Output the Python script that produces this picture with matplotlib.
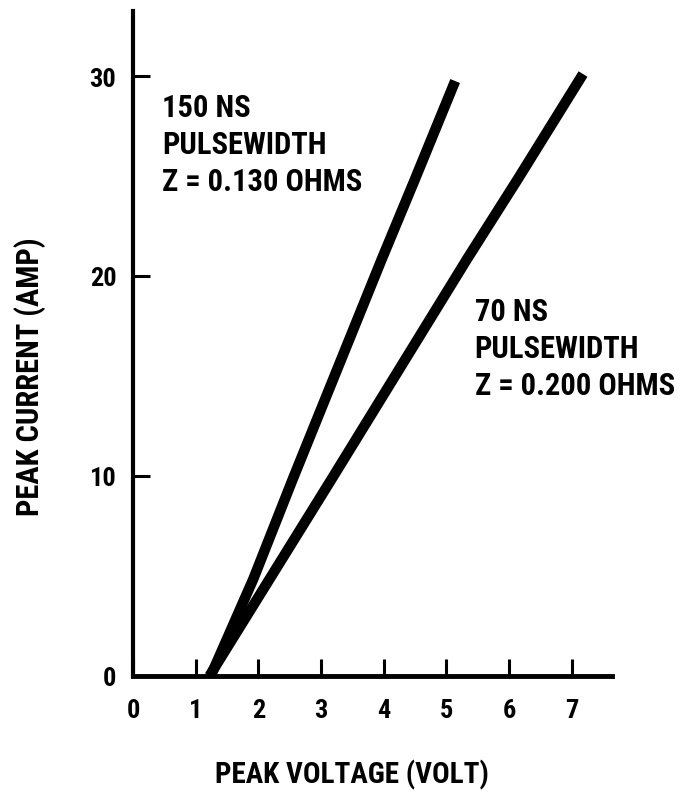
import numpy as np
import matplotlib
matplotlib.use('Agg')
import matplotlib.pyplot as plt

plt.rcParams['font.family'] = ['Roboto Condensed', 'DejaVu Sans']
plt.rcParams['font.weight'] = 'bold'

# peak voltage (V) vs peak current (A)
v_150ns = [1.24, 1.92, 2.55, 3.97, 4.50, 5.14]
i_150ns = [0.0, 4.85, 9.85, 20.85, 24.85, 29.75]
v_70ns = [1.22, 2.18, 3.17, 5.33, 6.14, 7.18]
i_70ns = [0.0, 4.85, 9.85, 20.85, 24.85, 30.1]

x_ticks = [0, 1, 2, 3, 4, 5, 6, 7]
y_ticks = [0, 10, 20, 30]

label_150 = '150 NS\nPULSEWIDTH\nZ = 0.130 OHMS'
label_70 = '70 NS\nPULSEWIDTH\nZ = 0.200 OHMS'

fig = plt.figure(figsize=(6.87, 8.03), dpi=100)
ax = fig.add_axes([0.1936, 0.157, 0.697, 0.828])

ax.plot(v_150ns, i_150ns, color='black', lw=7.5, solid_capstyle='butt')
ax.plot(v_70ns, i_70ns, color='black', lw=7.5, solid_capstyle='butt')

ax.set_xlim(0, 7.64)
ax.set_ylim(0, 33.25)
ax.set_xticks(x_ticks)
ax.set_yticks(y_ticks)

for s in ['top', 'right']:
    ax.spines[s].set_visible(False)
ax.spines['left'].set_linewidth(3)
ax.spines['bottom'].set_linewidth(3.5)

ax.tick_params(direction='in', length=12, width=2.2, labelsize=19, colors='black')
ax.tick_params(axis='x', pad=16)
ax.tick_params(axis='y', pad=12)

ax.set_xlabel('PEAK VOLTAGE (VOLT)', fontsize=21, fontweight='bold', va='center')
ax.xaxis.set_label_coords(0.457, -0.147)
ax.set_ylabel('PEAK CURRENT (AMP)', fontsize=22, fontweight='bold', va='center')
ax.yaxis.set_label_coords(-0.215, 0.451)

ax.text(0.46, 29.2, label_150, fontsize=22, fontweight='bold', va='top', ha='left', linespacing=1.3)
ax.text(5.45, 19.0, label_70, fontsize=22, fontweight='bold', va='top', ha='left', linespacing=1.3)

fig.savefig('out.png', dpi=100)
